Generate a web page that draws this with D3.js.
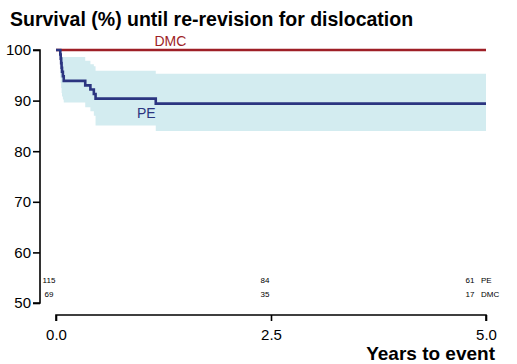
<!DOCTYPE html>
<html>
<head>
<meta charset="utf-8">
<style>
  body { margin: 0; background: #fff; }
  svg text { font-family: "Liberation Sans", Arial, Helvetica, sans-serif; }
  .axis path, .axis line { stroke: #000; stroke-width: 1.6; }
  .axis text { font-size: 15px; fill: #000; }
</style>
</head>
<body>
<div id="chart"></div>
<script src="https://d3js.org/d3.v7.min.js"></script>
<script>
  // PE group: Kaplan-Meier steps (years, survival %)
  const peTime  = [0, 0.05, 0.055, 0.06, 0.065, 0.07, 0.08, 0.09, 0.34, 0.40, 0.44, 0.46, 1.16, 5.0];
  const peSurv  = [100, 99.1, 98.3, 97.4, 96.5, 95.7, 94.8, 93.9, 93.0, 92.2, 91.3, 90.4, 89.4, 89.4];
  const peUpper = [100, 98.6, 98.6, 98.6, 98.6, 98.6, 98.6, 98.6, 97.9, 97.2, 96.8, 95.9, 95.3, 95.3];
  const peLower = [100, 94.5, 93.5, 92.5, 91.5, 90.8, 90.2, 89.6, 88.7, 87.9, 87.0, 85.1, 84.0, 84.0];

  // DMC group: no events
  const dmcTime = [0, 5.0];
  const dmcSurv = [100, 100];

  const yTicks = [50, 60, 70, 80, 90, 100];
  const xTicks = [0, 2.5, 5.0];

  // numbers at risk
  const riskTimes = [0, 2.5, 5.0];
  const riskPE  = [115, 84, 61];
  const riskDMC = [69, 35, 17];

  const width = 517, height = 364;
  const svg = d3.select("#chart").append("svg")
    .attr("width", width)
    .attr("height", height);

  const x = d3.scaleLinear().domain([0, 5]).range([56, 486]);
  const y = d3.scaleLinear().domain([50, 100]).range([303, 50]);

  // title
  svg.append("text")
    .attr("x", 10).attr("y", 26)
    .attr("font-size", 19.5).attr("font-weight", "bold")
    .text("Survival (%) until re-revision for dislocation");

  // confidence band for PE
  const band = peTime.map((t, i) => ({t: t, lo: peLower[i], hi: peUpper[i]})).slice(1);
  svg.append("path")
    .datum(band)
    .attr("fill", "#d3ecf0")
    .attr("d", d3.area()
      .curve(d3.curveStepAfter)
      .x(d => x(d.t))
      .y0(d => y(d.lo))
      .y1(d => y(d.hi)));

  const line = d3.line()
    .curve(d3.curveStepAfter)
    .x(d => x(d[0]))
    .y(d => y(d[1]));

  // DMC curve
  svg.append("path")
    .datum(dmcTime.map((t, i) => [t, dmcSurv[i]]))
    .attr("fill", "none")
    .attr("stroke", "#9e1f26")
    .attr("stroke-width", 2.6)
    .attr("d", line);

  // PE curve
  svg.append("path")
    .datum(peTime.map((t, i) => [t, peSurv[i]]))
    .attr("fill", "none")
    .attr("stroke", "#2b3580")
    .attr("stroke-width", 2.6)
    .attr("d", line);

  // curve labels
  svg.append("text")
    .attr("x", x(1.33)).attr("y", y(100) - 4)
    .attr("text-anchor", "middle")
    .attr("font-size", 14).attr("fill", "#9e1f26")
    .text("DMC");
  svg.append("text")
    .attr("x", x(1.05)).attr("y", y(86.5))
    .attr("text-anchor", "middle")
    .attr("font-size", 14).attr("fill", "#2b3580")
    .text("PE");

  // y axis
  svg.append("g")
    .attr("class", "axis")
    .attr("transform", "translate(40,0)")
    .call(d3.axisLeft(y).tickValues(yTicks).tickSize(7).tickPadding(2).tickFormat(d3.format("d")))
    .call(g => g.select(".domain").attr("d", `M-7,${y(50)}H0V${y(100)}H-7`));

  // x axis
  svg.append("g")
    .attr("class", "axis")
    .attr("transform", "translate(0,315)")
    .call(d3.axisBottom(x).tickValues(xTicks).tickSize(6).tickPadding(8).tickFormat(d3.format(".1f")))
    .call(g => g.select(".domain").attr("d", `M${x(0)},6V0H${x(5)}V6`));

  // x axis title
  svg.append("text")
    .attr("x", 495).attr("y", 360)
    .attr("text-anchor", "end")
    .attr("font-size", 19).attr("font-weight", "bold")
    .text("Years to event");

  // numbers at risk
  const riskX = [49, 265, 470];
  riskTimes.forEach((t, i) => {
    svg.append("text")
      .attr("x", riskX[i]).attr("y", 283)
      .attr("text-anchor", "middle").attr("font-size", 8)
      .text(riskPE[i]);
    svg.append("text")
      .attr("x", riskX[i]).attr("y", 297)
      .attr("text-anchor", "middle").attr("font-size", 8)
      .text(riskDMC[i]);
  });
  svg.append("text").attr("x", 481).attr("y", 283).attr("font-size", 8).text("PE");
  svg.append("text").attr("x", 481).attr("y", 297).attr("font-size", 8).text("DMC");
</script>
</body>
</html>
